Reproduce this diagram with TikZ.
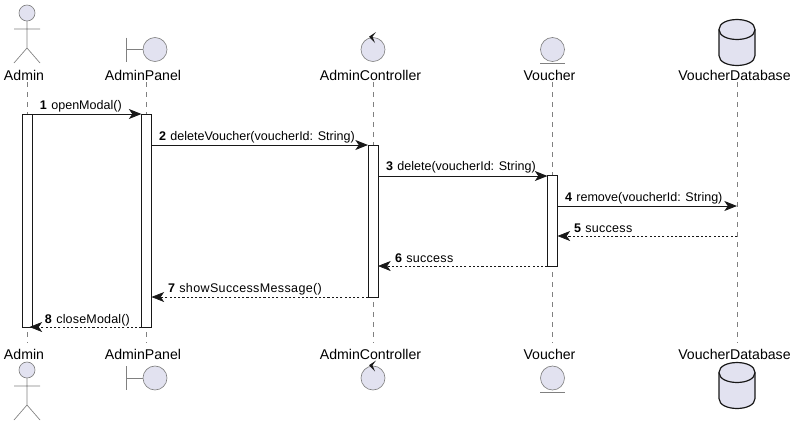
\documentclass[tikz,border=0pt]{standalone}
\usepackage{fontspec}
\setmainfont{Liberation Sans}
\usetikzlibrary{arrows.meta}
\definecolor{pfill}{HTML}{E2E2F0}
\definecolor{pline}{HTML}{181818}
\definecolor{pgray}{HTML}{808080}
\tikzset{
  x=0.75pt,y=-0.75pt,
  every node/.style={inner sep=0pt,outer sep=0pt},
  name label/.style={font=\fontsize{10.6pt}{12pt}\selectfont,text=black,anchor=base},
  msg label/.style={font=\fontsize{9.4pt}{11pt}\selectfont,text=black,anchor=base west},
  life/.style={draw=pgray,line width=0.4pt,dash pattern=on 3.75pt off 3.75pt},
  act/.style={draw=pline,fill=white,line width=0.75pt,rectangle,minimum width=7.5pt},
  sync/.style={draw=pline,line width=0.75pt,-{Stealth[length=9.5pt,width=7.5pt,inset=2.6pt]}},
  reply/.style={draw=pline,line width=0.5pt,dash pattern=on 1.6pt off 1.6pt,-{Stealth[length=9.5pt,width=7.5pt,inset=2.6pt,line width=0.5pt]}},
  symb/.style={draw=pgray,fill=pfill,line width=0.5pt},
  stroke/.style={draw=pgray,line width=0.5pt},
}
\newcommand{\msgtext}[3][0]{\textbf{#2}\hspace{3.3pt}{\addfontfeature{LetterSpace=#1}#3}}
\newcommand{\actorsym}[1]{%
  \begin{scope}[shift={#1}]
    \draw[symb] (0,0) circle[radius=8];
    \draw[stroke] (0,8) -- (0,35) (-13,16) -- (13,16) (-13,50) -- (0,35) -- (13,50);
  \end{scope}}
\newcommand{\boundarysym}[1]{%
  \begin{scope}[shift={#1}]
    \draw[stroke] (-28.5,-12) -- (-28.5,12) (-28.5,0) -- (-12,0);
    \draw[symb] (0,0) circle[radius=12];
  \end{scope}}
\newcommand{\controlsym}[1]{%
  \begin{scope}[shift={#1}]
    \draw[symb] (0,0) circle[radius=12];
    \fill[pline] (3,-17.5) -- (-4,-12.8) -- (2,-6.5) -- (-0.5,-12.8) -- cycle;
  \end{scope}}
\newcommand{\entitysym}[1]{%
  \begin{scope}[shift={#1}]
    \draw[symb] (0,0) circle[radius=12];
    \draw[stroke] (-12.5,14) -- (12.5,14);
  \end{scope}}
\newcommand{\dbsym}[1]{%
  \begin{scope}[shift={#1}]
    \draw[fill=pfill,draw=pline,line width=0.9pt] (-18,0) .. controls (-18,-13.3) and (18,-13.3) .. (18,0)
      -- (18,26) .. controls (18,39.3) and (-18,39.3) .. (-18,26) -- cycle;
    \draw[draw=pline,line width=0.9pt] (-18,0) .. controls (-18,13.3) and (18,13.3) .. (18,0);
  \end{scope}}
\begin{document}
\begin{tikzpicture}
\useasboundingbox (0,0) rectangle (797,426);
% lifeline ends
\foreach \n/\x in {a/27,p/146.5,c/373,v/552.5,d/737}{
  \coordinate (\n t) at (\x,82);
  \coordinate (\n b) at (\x,343);
  \draw[life] (\n t) -- (\n b);
}
% participant names
\node[name label] (at) at (24,80.3) {Admin};
\node[name label] (pt) at (143,80.3) {AdminPanel};
\node[name label] (ct) at (370.5,80.3) {AdminController};
\node[name label] (vt) at (549.5,80.3) {Voucher};
\node[name label] (dt) at (734.5,80.3) {VoucherDatabase};
\node[name label] (ab) at (24,359) {Admin};
\node[name label] (pb) at (143,359) {AdminPanel};
\node[name label] (cb) at (370.5,359) {AdminController};
\node[name label] (vb) at (549.5,359) {Voucher};
\node[name label] (db) at (734.5,359) {VoucherDatabase};
% symbols
\actorsym{(27,13)} \actorsym{(27,370)}
\boundarysym{(155,49.5)} \boundarysym{(155,378)}
\controlsym{(373,49.5)} \controlsym{(373,378)}
\entitysym{(552.5,49.5)} \entitysym{(552.5,378)}
\dbsym{(737,29.5)} \dbsym{(737,372.5)}
% activations
\node[act,minimum height=159.75pt,anchor=north] (A) at (27.5,114) {};
\node[act,minimum height=159.75pt,anchor=north] (P) at (146.5,114) {};
\node[act,minimum height=114pt,anchor=north] (C) at (373,145) {};
\node[act,minimum height=68.25pt,anchor=north] (V) at (552.5,175.5) {};
% message connector ends
\coordinate (A1) at (A.east|-0,114);
\coordinate (P1) at (P.west|-0,114);
\coordinate (P2) at (P.east|-0,145);
\coordinate (C2) at (C.west|-0,145);
\coordinate (C3) at (C.east|-0,176);
\coordinate (V3) at (V.west|-0,176);
\coordinate (V4) at (V.east|-0,206);
\coordinate (D4) at (737,206);
\coordinate (D5) at (737,236);
\coordinate (V5) at (V.east|-0,236);
\coordinate (V6) at (V.west|-0,266);
\coordinate (C6) at (C.east|-0,266);
\coordinate (C7) at (C.west|-0,297);
\coordinate (P7) at (P.east|-0,297);
\coordinate (P8) at (P.west|-0,327);
\coordinate (A8) at (29.5,327);
% messages
\draw[sync] (A1) -- (P1);
\draw[sync] (P2) -- (C2);
\draw[sync] (C3) -- (V3);
\draw[sync] (V4) -- (D4);
\draw[reply] (D5) -- (V5);
\draw[reply] (V6) -- (C6);
\draw[reply] (C7) -- (P7);
\draw[reply] (P8) -- (A8);
% message labels
\node[msg label] (m1) at (40,109) {\msgtext{1}{openModal()}};
\node[msg label] (m2) at (159,140) {\msgtext{2}{deleteVoucher(voucherId: String)}};
\node[msg label] (m3) at (386,170.5) {\msgtext{3}{delete(voucherId: String)}};
\node[msg label] (m4) at (565,201) {\msgtext{4}{remove(voucherId: String)}};
\node[msg label] (m5) at (574,232) {\msgtext[2.2]{5}{success}};
\node[msg label] (m6) at (395,262) {\msgtext[2.2]{6}{success}};
\node[msg label] (m7) at (168,292) {\msgtext[2.8]{7}{showSuccessMessage()}};
\node[msg label] (m8) at (45,323) {\msgtext[1.3]{8}{closeModal()}};
\end{tikzpicture}
\end{document}
